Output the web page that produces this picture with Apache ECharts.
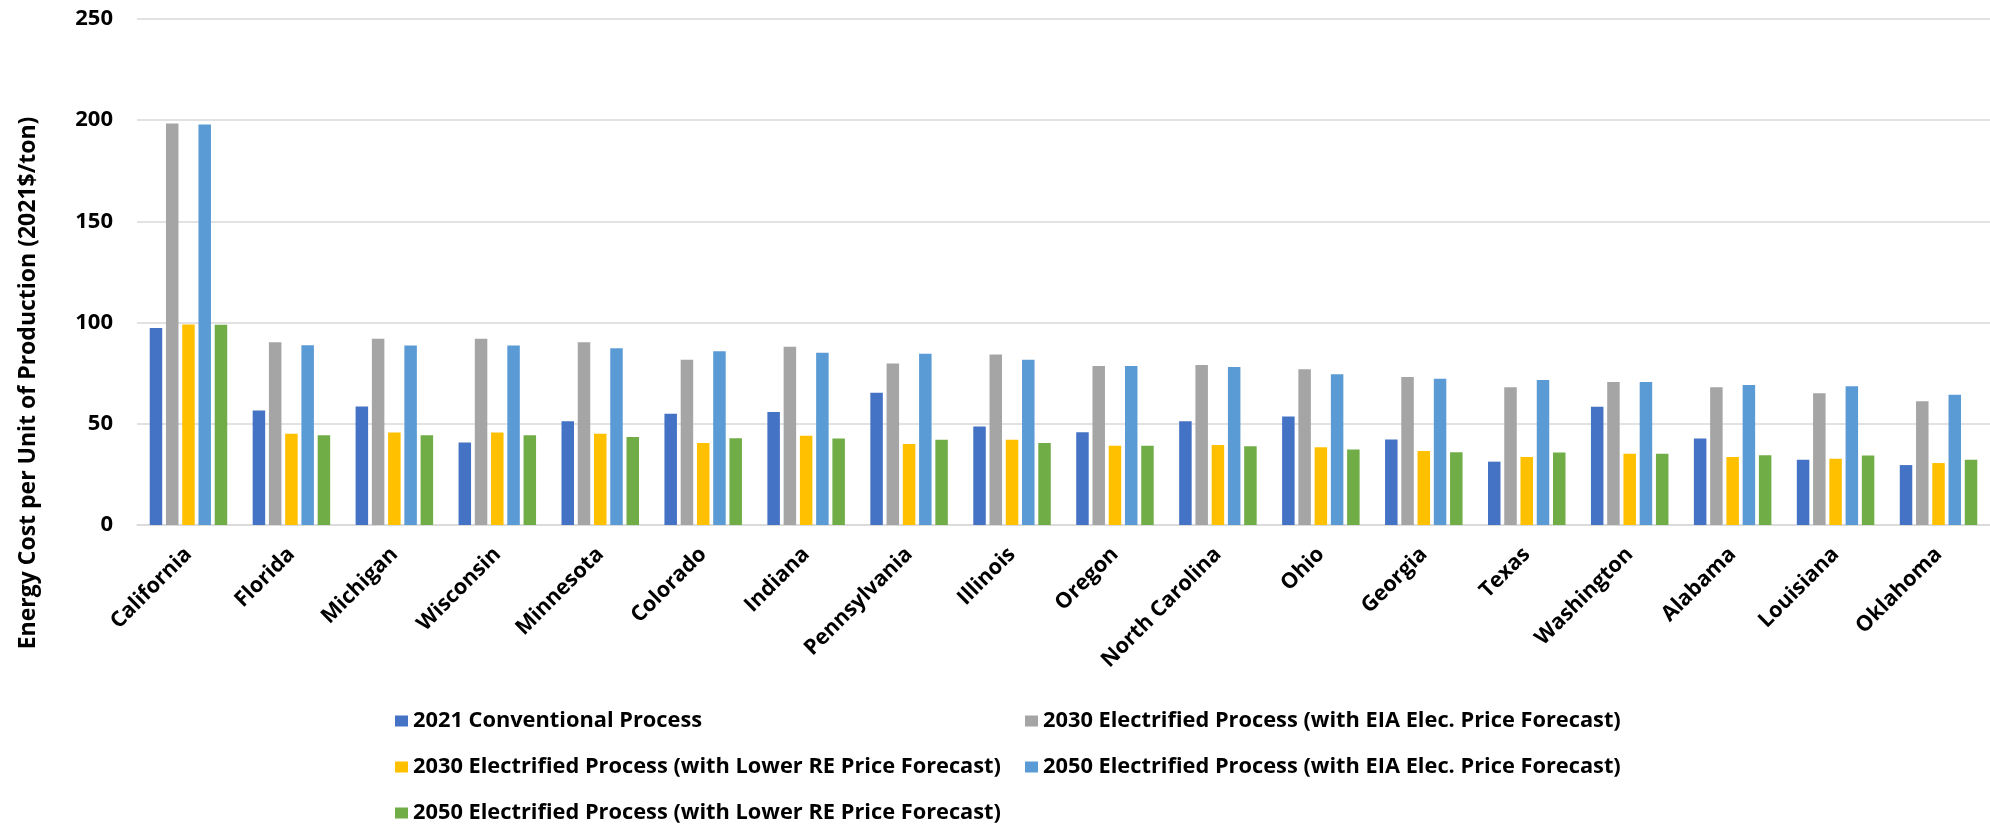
<!DOCTYPE html>
<html>
<head>
<meta charset="utf-8">
<script src="https://cdn.jsdelivr.net/npm/echarts@6/dist/echarts.min.js"></script>
<style>
html,body{margin:0;padding:0;background:#fff;}
#chart{width:1990px;height:826px;}
</style>
</head>
<body>
<div id="chart"></div>
<script>
const categories = ["California","Florida","Michigan","Wisconsin","Minnesota","Colorado","Indiana","Pennsylvania","Illinois","Oregon","North Carolina","Ohio","Georgia","Texas","Washington","Alabama","Louisiana","Oklahoma"];
const seriesNames = [
  "2021 Conventional Process",
  "2030 Electrified Process (with EIA Elec. Price Forecast)",
  "2030 Electrified Process (with Lower RE Price Forecast)",
  "2050 Electrified Process (with EIA Elec. Price Forecast)",
  "2050 Electrified Process (with Lower RE Price Forecast)"
];
const conv2021 = [97.3, 56.6, 58.6, 40.7, 51.3, 55.0, 55.8, 65.3, 48.7, 45.8, 51.3, 53.6, 42.3, 31.3, 58.4, 42.7, 32.2, 29.6];
const elec2030EIA = [198.4, 90.3, 92.0, 92.0, 90.3, 81.6, 88.1, 79.8, 84.2, 78.6, 79.1, 77.0, 73.1, 68.0, 70.6, 68.0, 65.1, 61.2];
const elec2030RE = [99.1, 45.1, 45.7, 45.7, 45.1, 40.5, 44.1, 40.0, 42.1, 39.1, 39.5, 38.4, 36.5, 33.6, 35.2, 33.6, 32.7, 30.6];
const elec2050EIA = [197.9, 88.8, 88.7, 88.7, 87.3, 85.8, 85.1, 84.6, 81.6, 78.6, 78.1, 74.5, 72.2, 71.7, 70.6, 69.2, 68.5, 64.4];
const elec2050RE = [98.9, 44.4, 44.4, 44.4, 43.5, 42.8, 42.7, 42.1, 40.5, 39.1, 38.9, 37.3, 35.9, 35.8, 35.2, 34.5, 34.3, 32.2];
const yTicks = [0, 50, 100, 150, 200, 250];
const yTitle = "Energy Cost per Unit of Production (2021$/ton)";

const colors = ["#4472C4", "#A5A5A5", "#FFC000", "#5B9BD5", "#70AD47"];
const allData = [conv2021, elec2030EIA, elec2030RE, elec2050EIA, elec2050RE];
const FONT = "Open Sans";

const chart = echarts.init(document.getElementById('chart'), null, {renderer: 'canvas'});
const legendText = {fontFamily: FONT, fontWeight: 'bold', fontSize: 21.8, color: '#000', lineHeight: 26};
const legendBase = {orient: 'vertical', top: 708, height: 130, itemWidth: 13, itemHeight: 11, itemGap: 20, icon: 'rect', textStyle: legendText, padding: 0};
const option = {
  animation: false,
  backgroundColor: '#fff',
  color: colors,
  grid: {left: 137, top: 19, width: 1859, bottom: 301, containLabel: false},
  xAxis: {
    type: 'category',
    data: categories,
    axisLine: {show: true, lineStyle: {color: '#d9d9d9', width: 1.5}},
    axisTick: {show: false},
    axisLabel: {rotate: 45, interval: 0, margin: 26, fontFamily: FONT, fontWeight: 'bold', fontSize: 21.5, color: '#000'}
  },
  yAxis: {
    type: 'value',
    min: yTicks[0], max: yTicks[yTicks.length - 1], interval: 50,
    axisLine: {show: false},
    axisTick: {show: false},
    splitLine: {lineStyle: {color: '#d9d9d9', width: 1.5}},
    axisLabel: {margin: 24, fontFamily: FONT, fontWeight: 'bold', fontSize: 22, color: '#000'}
  },
  legend: [
    Object.assign({}, legendBase, {left: 395, data: [seriesNames[0], seriesNames[2], seriesNames[4]]}),
    Object.assign({}, legendBase, {left: 1025, data: [seriesNames[1], seriesNames[3]]})
  ],
  graphic: [{
    type: 'text', x: 28, y: 383, rotation: Math.PI / 2,
    style: {text: yTitle, fontFamily: FONT, fontWeight: 'bold', fontSize: 23, fill: '#000', align: 'center', verticalAlign: 'middle'}
  }],
  series: seriesNames.map((n, i) => ({
    name: n,
    type: 'bar',
    data: allData[i],
    barWidth: 12.5,
    barGap: '30%',
    itemStyle: {color: colors[i]}
  }))
};
chart.setOption(option);
</script>
</body>
</html>
